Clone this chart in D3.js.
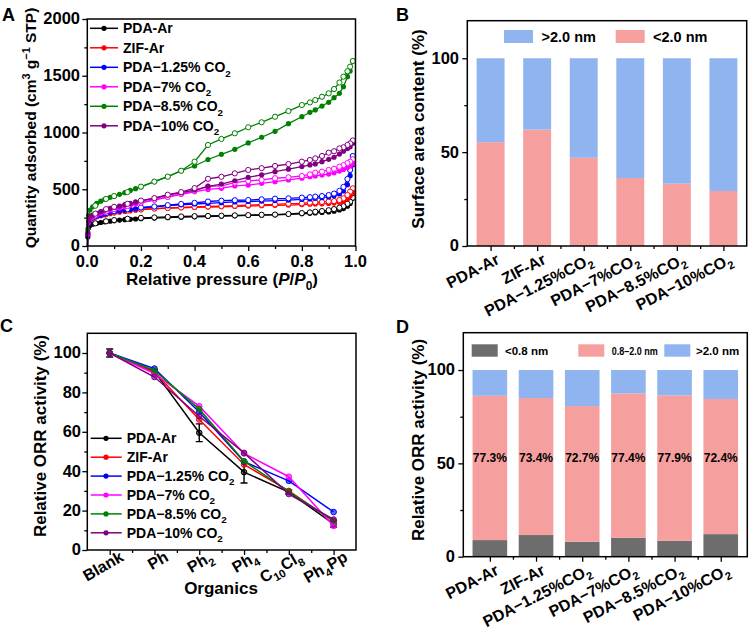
<!DOCTYPE html>
<html><head><meta charset="utf-8">
<script src="https://cdn.jsdelivr.net/npm/d3@7"></script>
<style>body{margin:0;background:#fff}svg{font-family:"Liberation Sans",Arial,sans-serif;font-weight:bold}</style>
</head><body><svg id="c" width="750" height="630"></svg>
<script>
// ---------- Panel A: N2 isotherms ----------
const samples = ["PDA-Ar","ZIF-Ar","PDA−1.25% CO_{2}","PDA−7% CO_{2}","PDA−8.5% CO_{2}","PDA−10% CO_{2}"];
const pAds = [0.001,0.002,0.005,0.01,0.02,0.035,0.05,0.065,0.085,0.1,0.12,0.14,0.16,0.18,0.2,0.25,0.3,0.35,0.4,0.45,0.5,0.55,0.6,0.65,0.7,0.75,0.8,0.83,0.85,0.875,0.9,0.92,0.94,0.955,0.97,0.98,0.99];
const pDes = [0.99,0.98,0.97,0.955,0.94,0.92,0.9,0.875,0.85,0.83,0.8,0.75,0.7,0.65,0.6,0.55,0.5,0.45,0.4,0.35,0.3,0.25,0.2,0.15,0.1,0.07,0.03];
const adsPDAAr = [0,80,160,183,192,200,207,213,219,223,228,232,235,238,241,246,250,254,257,260,263,266,269,272,275,279,284,288,291,295,300,307,318,330,350,375,420];
const desPDAAr = [425,390,372,350,338,325,315,308,302,296,290,282,277,275,272,270,267,265,263,260,256,252,248,240,228,218,200];
const adsZIFAr = [0,100,195,232,245,258,266,274,285,292,298,305,310,315,320,328,333,337,340,343,346,349,352,355,358,361,365,368,370,372,375,378,385,395,415,440,470];
const desZIFAr = [508,479,450,420,405,396,393,388,385,382,376,373,367,364,361,355,352,348,345,340,335,330,322,312,295,280,258];
const adsCO2_125 = [0,100,200,235,250,262,272,282,295,302,310,316,322,328,335,345,355,363,370,376,382,388,392,396,400,405,410,415,420,426,432,442,458,485,540,620,715];
const desCO2_125 = [793,670,590,520,485,462,449,440,435,430,426,420,417,411,405,403,399,392,380,370,360,348,340,325,308,290,262];
const adsCO2_7 = [0,110,210,240,255,275,288,298,315,322,333,345,358,370,380,405,430,455,478,498,508,529,537,552,567,582,598,611,617,626,634,645,660,675,692,705,725];
const desCO2_7 = [764,743,730,712,699,680,670,655,646,631,617,605,597,582,573,558,530,525,485,460,433,408,383,352,325,305,272];
const adsCO2_85 = [0,150,270,317,345,376,395,410,429,440,455,470,490,505,520,567,611,663,705,762,808,852,908,958,1010,1078,1139,1178,1199,1233,1266,1307,1345,1404,1492,1542,1630];
const desCO2_85 = [1630,1580,1540,1492,1440,1383,1345,1315,1286,1265,1242,1189,1139,1090,1046,993,943,890,743,663,611,567,523,475,440,415,355];
const adsCO2_10 = [0,120,220,258,272,288,302,315,332,340,352,364,376,388,398,420,449,470,493,525,546,575,605,627,655,677,700,714,723,743,764,782,810,835,858,875,905];
const desCO2_10 = [930,904,890,870,860,835,822,793,772,758,743,722,705,686,670,640,610,592,510,475,452,422,400,372,345,325,285];
const xTicksA = [0,0.2,0.4,0.6,0.8,1.0];
const yTicksA = [0,500,1000,1500,2000];

// ---------- Panel B: surface area content ----------
const materials = ["PDA-Ar","ZIF-Ar","PDA−1.25%CO_{2}","PDA−7%CO_{2}","PDA−8.5%CO_{2}","PDA−10%CO_{2}"];
const areaMicro = [55.3,62.0,47.0,36.2,33.2,29.3];   // <2.0 nm
const areaMeso  = [44.7,38.0,53.0,63.8,66.8,70.7];   // >2.0 nm
const yTicksBD = [0,50,100];

// ---------- Panel C: relative ORR activity vs organics ----------
const organics = ["Blank","Ph","Ph_{2}","Ph_{4}","C_{10}Cl_{8}","Ph_{4}Pp"];
const actPDAAr  = [100,90.6,59.5,39.5,29.4,13.2];
const errPDAAr  = [2.0,1.0,4.5,5.5,1.0,1.5];
const actZIFAr  = [100,90.3,66.2,43.4,30.0,14.5];
const act125    = [100,92.1,70.1,44.8,35.1,19.3];
const act7      = [100,89.5,73.0,49.0,37.2,12.2];
const act85     = [100,91.2,71.5,45.1,29.6,14.9];
const act10     = [100,87.8,67.9,49.3,28.4,15.5];
const yTicksC = [0,20,40,60,80,100];

// ---------- Panel D: relative ORR activity by pore size ----------
const ormSmall = [8.9,11.6,8.0,10.1,8.5,12.1];     // <0.8 nm
const ormMid   = [77.3,73.4,72.7,77.4,77.9,72.4];  // 0.8–2.0 nm
const ormLarge = [13.8,15.0,19.3,12.5,13.6,15.5];  // >2.0 nm
const poreLegend = ["<0.8 nm","0.8–2.0 nm",">2.0 nm"];

// ---------- styling ----------
const seriesColors = ["#000000","#ff0000","#0000ff","#ff00ff","#008000","#800080"];
const cBlue = "#8fb4ef", cPink = "#f5a09f", cGray = "#6d6d6d";
const TICK = 16, TITLE = 17, LEG = 14;

const svg = d3.select("#c");

function rich(sel, str, fs) {
  const parts = str.split(/(_\{[^}]*\}|\^\{[^}]*\}|\*\{[^}]*\})/).filter(s => s.length);
  let shift = 0;
  parts.forEach(p => {
    const t = sel.append("tspan");
    let target = 0, txt = p, small = false, ital = false;
    if (p.startsWith("_{")) { target = 0.3 * fs; txt = p.slice(2, -1); small = true; }
    else if (p.startsWith("^{")) { target = -0.4 * fs; txt = p.slice(2, -1); small = true; }
    else if (p.startsWith("*{")) { txt = p.slice(2, -1); ital = true; }
    if (target - shift !== 0) t.attr("dy", target - shift);
    shift = target;
    if (small) t.attr("font-size", fs * 0.7);
    if (ital) t.attr("font-style", "italic");
    t.text(txt);
  });
}
function frame(x0, x1, y0, y1) {
  svg.append("rect").attr("x", x0).attr("y", y0).attr("width", x1 - x0).attr("height", y1 - y0)
    .attr("fill", "none").attr("stroke", "#000").attr("stroke-width", 1.5);
}
function ticks(orient, scale, values, size, pos) {
  const ax = (orient === "left" ? d3.axisLeft : d3.axisBottom)(scale).tickValues(values).tickSize(size).tickFormat("");
  const g = svg.append("g").attr("transform", orient === "left" ? `translate(${pos},0)` : `translate(0,${pos})`).call(ax);
  g.select(".domain").remove();
  g.selectAll("line").attr("stroke", "#000").attr("stroke-width", 1.3);
}
function yLabels(scale, values, xr) {
  values.forEach(v => svg.append("text").attr("x", xr).attr("y", scale(v)).attr("dy", "0.33em")
    .attr("text-anchor", "end").attr("font-size", TICK + 0.5).text(v));
}
function vTitle(x, y, str, fs) {
  const t = svg.append("text").attr("transform", `translate(${x},${y}) rotate(-90)`)
    .attr("text-anchor", "middle").attr("font-size", fs);
  rich(t, str, fs);
}
function letter(x, y, s) {
  svg.append("text").attr("x", x).attr("y", y).attr("font-size", 18).text(s);
}

// ================= Panel A =================
{
  const x = d3.scaleLinear().domain([0, 1]).range([87.3, 355.5]);
  const y = d3.scaleLinear().domain([0, 2000]).range([246, 19]);
  const ads = [adsPDAAr, adsZIFAr, adsCO2_125, adsCO2_7, adsCO2_85, adsCO2_10];
  const des = [desPDAAr, desZIFAr, desCO2_125, desCO2_7, desCO2_85, desCO2_10];
  const line = d3.line().x(d => x(d[0])).y(d => y(d[1]));
  samples.forEach((s, i) => {
    const a = pAds.map((p, j) => [p, ads[i][j]]);
    const d = pDes.map((p, j) => [p, des[i][j]]);
    const c = seriesColors[i];
    svg.append("path").attr("d", line(a)).attr("fill", "none").attr("stroke", c).attr("stroke-width", 1.3);
    svg.append("path").attr("d", line(d)).attr("fill", "none").attr("stroke", c).attr("stroke-width", 1.3);
    svg.append("g").selectAll("circle").data(a.slice(1)).join("circle")
      .attr("cx", e => x(e[0])).attr("cy", e => y(e[1])).attr("r", 2.6).attr("fill", c);
    svg.append("g").selectAll("circle").data(d).join("circle")
      .attr("cx", e => x(e[0])).attr("cy", e => y(e[1])).attr("r", 2.6)
      .attr("fill", "#fff").attr("stroke", c).attr("stroke-width", 1);
  });
  frame(87.3, 355.5, 19, 246);
  ticks("left", y, yTicksA, 5, 87.3);
  ticks("left", y, [250, 750, 1250, 1750], 3, 87.3);
  ticks("bottom", x, xTicksA, 5, 246);
  ticks("bottom", x, [0.1, 0.3, 0.5, 0.7, 0.9], 3, 246);
  yLabels(y, yTicksA, 80);
  xTicksA.forEach(v => svg.append("text").attr("x", x(v)).attr("y", 266.5).attr("text-anchor", "middle")
    .attr("font-size", TICK + 0.5).text(d3.format(".1f")(v)));
  const xt = svg.append("text").attr("x", 222).attr("y", 284.5).attr("text-anchor", "middle").attr("font-size", TITLE);
  rich(xt, "Relative pressure (*{P}/*{P}_{0})", TITLE);
  vTitle(36, 128, "Quantity adsorbed (cm^{3} g^{−1} STP)", 15.5);
  // legend
  samples.forEach((s, i) => {
    const cy = 28.3 + i * 19.5;
    svg.append("line").attr("x1", 90).attr("x2", 118).attr("y1", cy).attr("y2", cy)
      .attr("stroke", seriesColors[i]).attr("stroke-width", 1.5);
    svg.append("circle").attr("cx", 104).attr("cy", cy).attr("r", 2.6).attr("fill", seriesColors[i]);
    const t = svg.append("text").attr("x", 123).attr("y", cy + 5).attr("font-size", LEG);
    rich(t, s, LEG);
  });
  letter(2, 21, "A");
}

// ================= Panel B =================
{
  const x = d3.scaleBand().domain(materials).range([467.3, 746.7]).paddingInner(0.4).paddingOuter(0.2);
  const y = d3.scaleLinear().domain([0, 120]).range([246, 20.7]);
  svg.append("g").selectAll("rect").data(materials).join("rect")
    .attr("x", d => x(d)).attr("width", x.bandwidth())
    .attr("y", (d, i) => y(areaMicro[i])).attr("height", (d, i) => y(0) - y(areaMicro[i])).attr("fill", cPink);
  svg.append("g").selectAll("rect").data(materials).join("rect")
    .attr("x", d => x(d)).attr("width", x.bandwidth())
    .attr("y", (d, i) => y(areaMicro[i] + areaMeso[i])).attr("height", (d, i) => y(areaMicro[i]) - y(areaMicro[i] + areaMeso[i])).attr("fill", cBlue);
  frame(467.3, 746.7, 20.7, 246);
  ticks("left", y, yTicksBD, 5, 467.3);
  ticks("left", y, [25, 75], 3, 467.3);
  const centers = materials.map(m => x(m) + x.bandwidth() / 2);
  ticks("bottom", d3.scaleIdentity(), centers, 5, 246);
  ticks("bottom", d3.scaleIdentity(), centers.slice(1).map((c, i) => (c + centers[i]) / 2), 3, 246);
  yLabels(y, yTicksBD, 459);
  materials.forEach((m, i) => {
    const t = svg.append("text").attr("transform", `translate(${centers[i] + 10},${246 + 17}) rotate(-27)`)
      .attr("text-anchor", "end").attr("font-size", TICK);
    rich(t, m, TICK);
  });
  vTitle(424, 129, "Surface area content (%)", TITLE);
  // legend
  svg.append("rect").attr("x", 504).attr("y", 30).attr("width", 29).attr("height", 13).attr("fill", cBlue);
  svg.append("text").attr("x", 541.5).attr("y", 42).attr("font-size", 14.5).text(">2.0 nm");
  svg.append("rect").attr("x", 615.7).attr("y", 30).attr("width", 29).attr("height", 13).attr("fill", cPink);
  svg.append("text").attr("x", 653).attr("y", 42).attr("font-size", 14.5).text("<2.0 nm");
  letter(396, 21, "B");
}

// ================= Panel C =================
{
  const x = d3.scalePoint().domain(organics).range([87.3, 356]).padding(0.5);
  const y = d3.scaleLinear().domain([0, 110]).range([550, 333.3]);
  const acts = [actPDAAr, actZIFAr, act125, act7, act85, act10];
  const line = d3.line().x(d => x(d[0])).y(d => y(d[1]));
  acts.forEach((arr, i) => {
    const pts = organics.map((o, j) => [o, arr[j]]);
    svg.append("path").attr("d", line(pts)).attr("fill", "none").attr("stroke", seriesColors[i]).attr("stroke-width", 1.5);
    if (i === 0) {
      pts.forEach((p, j) => {
        const cx = x(p[0]), y1 = y(p[1] + errPDAAr[j]), y2 = y(p[1] - errPDAAr[j]);
        svg.append("path").attr("d", `M${cx},${y1}V${y2}M${cx - 3.5},${y1}H${cx + 3.5}M${cx - 3.5},${y2}H${cx + 3.5}`)
          .attr("stroke", "#000").attr("stroke-width", 1.4).attr("fill", "none");
      });
    }
    svg.append("g").selectAll("circle").data(pts).join("circle")
      .attr("cx", d => x(d[0])).attr("cy", d => y(d[1])).attr("r", 2.8)
      .attr("fill", seriesColors[i]).attr("fill-opacity", 0.6).attr("stroke", seriesColors[i]).attr("stroke-width", 1);
  });
  frame(87.3, 356, 333.3, 550);
  ticks("left", y, yTicksC, 5, 87.3);
  ticks("left", y, [10, 30, 50, 70, 90], 3, 87.3);
  ticks("bottom", x, organics, 5, 550);
  const cs = organics.map(o => x(o));
  ticks("bottom", d3.scaleIdentity(), cs.slice(1).map((c, i) => (c + cs[i]) / 2), 3, 550);
  yLabels(y, yTicksC, 81);
  organics.forEach(o => {
    const t = svg.append("text").attr("transform", `translate(${x(o) + 15},${550 + 10}) rotate(-30)`)
      .attr("text-anchor", "end").attr("font-size", TICK);
    rich(t, o, TICK);
  });
  svg.append("text").attr("x", 221).attr("y", 594).attr("text-anchor", "middle").attr("font-size", TITLE).text("Organics");
  vTitle(46, 436, "Relative ORR activity (%)", TITLE);
  samples.forEach((s, i) => {
    const cy = 438.3 + i * 18.9;
    svg.append("line").attr("x1", 90.7).attr("x2", 121.7).attr("y1", cy).attr("y2", cy)
      .attr("stroke", seriesColors[i]).attr("stroke-width", 1.5);
    svg.append("circle").attr("cx", 106).attr("cy", cy).attr("r", 2.6).attr("fill", seriesColors[i]);
    const t = svg.append("text").attr("x", 126.7).attr("y", cy + 5).attr("font-size", LEG);
    rich(t, s, LEG);
  });
  letter(0, 332, "C");
}

// ================= Panel D =================
{
  const x = d3.scaleBand().domain(materials).range([463.3, 747.3]).paddingInner(0.25).paddingOuter(0.2);
  const y = d3.scaleLinear().domain([0, 120]).range([556.7, 332.7]);
  const stacks = [ormSmall, ormMid, ormLarge];
  const cols = [cGray, cPink, cBlue];
  materials.forEach((m, i) => {
    let base = 0;
    stacks.forEach((arr, k) => {
      svg.append("rect").attr("x", x(m)).attr("width", x.bandwidth())
        .attr("y", y(base + arr[i])).attr("height", y(base) - y(base + arr[i])).attr("fill", cols[k]);
      base += arr[i];
    });
    svg.append("text").attr("x", x(m) + x.bandwidth() / 2).attr("y", y(51)).attr("text-anchor", "middle")
      .attr("font-size", 12).text(ormMid[i].toFixed(1) + "%");
  });
  frame(463.3, 747.3, 332.7, 556.7);
  ticks("left", y, yTicksBD, 5, 463.3);
  ticks("left", y, [25, 75], 3, 463.3);
  const centers = materials.map(m => x(m) + x.bandwidth() / 2);
  ticks("bottom", d3.scaleIdentity(), centers, 5, 556.7);
  ticks("bottom", d3.scaleIdentity(), centers.slice(1).map((c, i) => (c + centers[i]) / 2), 3, 556.7);
  yLabels(y, yTicksBD, 455);
  materials.forEach((m, i) => {
    const t = svg.append("text").attr("transform", `translate(${centers[i] + 10},${556.7 + 17}) rotate(-27)`)
      .attr("text-anchor", "end").attr("font-size", TICK);
    rich(t, m, TICK);
  });
  vTitle(424, 440, "Relative ORR activity (%)", TITLE);
  const legX = [[471.7, 505, 0], [578.3, 611.7, 46], [664.3, 696, 0]];
  poreLegend.forEach((lab, k) => {
    svg.append("rect").attr("x", legX[k][0]).attr("y", 344.3).attr("width", 26).attr("height", 12.4).attr("fill", cols[k]);
    const t = svg.append("text").attr("x", legX[k][1]).attr("y", 355).attr("font-size", 11.5).text(lab);
    if (legX[k][2]) t.attr("textLength", legX[k][2]).attr("lengthAdjust", "spacingAndGlyphs");
  });
  letter(396, 333, "D");
}
</script></body></html>
